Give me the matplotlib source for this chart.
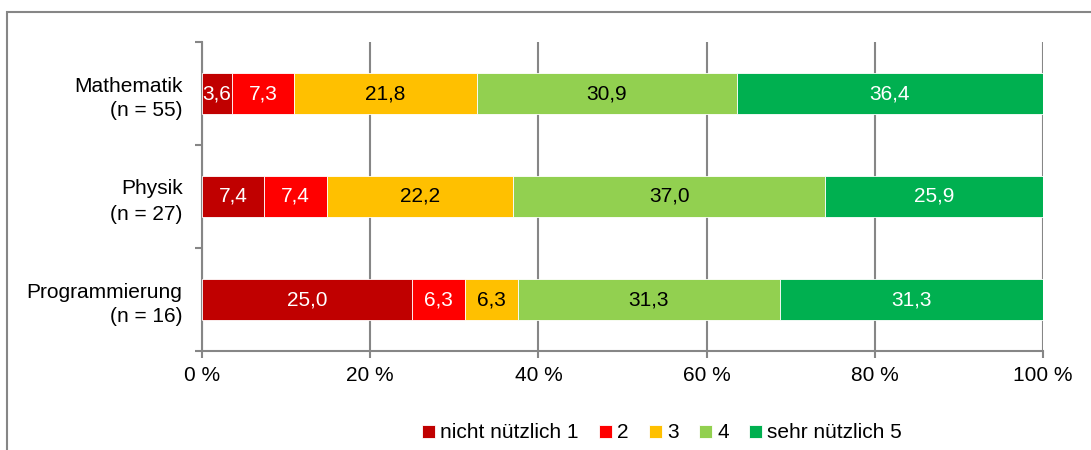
import matplotlib
matplotlib.use("Agg")
import matplotlib.pyplot as plt
import numpy as np
from matplotlib.patches import Rectangle

plt.rcParams['font.family'] = ['Liberation Sans', 'DejaVu Sans']

categories = ['Mathematik\n(n = 55)', 'Physik\n(n = 27)', 'Programmierung\n(n = 16)']
series = ['nicht nützlich 1', '2', '3', '4', 'sehr nützlich 5']
values = [
    [3.6, 7.3, 21.8, 30.9, 36.4],
    [7.4, 7.4, 22.2, 37.0, 25.9],
    [25.0, 6.3, 6.3, 31.3, 31.3],
]
colors = ['#C00000', '#FF0000', '#FFC000', '#92D050', '#00B050']
text_colors = ['white', 'white', 'black', 'black', 'white']
xticks = [0, 20, 40, 60, 80, 100]
xtick_labels = ['0 %', '20 %', '40 %', '60 %', '80 %', '100 %']

grey = '#868686'
fs = 15

fig = plt.figure(figsize=(10.91, 4.5), dpi=100)
ax = fig.add_axes([202/1091, 1-351/450, (1043-202)/1091, (351-42)/450])

vals = np.array(values)
# 100 % stacked: normalise each row like the spreadsheet does
widths = vals / vals.sum(axis=1, keepdims=True) * 100
y = np.arange(len(categories))
left = np.zeros(len(categories))
for j, name in enumerate(series):
    bars = ax.barh(y, widths[:, j], left=left, height=0.4, color=colors[j],
                   edgecolor='white', linewidth=0.6, label=name, zorder=3)
    for i, b in enumerate(bars):
        ax.text(left[i] + widths[i, j] / 2, y[i], f'{vals[i, j]:.1f}'.replace('.', ','),
                ha='center', va='center', color=text_colors[j], fontsize=fs, zorder=4)
    left += widths[:, j]

ax.set_xlim(0, 100)
ax.set_ylim(2.5, -0.5)
ax.set_xticks(xticks)
ax.set_xticklabels(xtick_labels, fontsize=fs)
ax.set_yticks(y)
ax.set_yticklabels(categories, fontsize=fs, linespacing=1.4)
ax.set_yticks([-0.5, 0.5, 1.5, 2.5], minor=True)
ax.tick_params(axis='y', which='major', length=0, pad=14)
ax.tick_params(axis='y', which='minor', length=5, width=1.5, color=grey)
ax.tick_params(axis='x', which='major', length=5, width=1.5, color=grey, pad=6)

ax.xaxis.grid(True, color=grey, linewidth=1.5, zorder=0)
ax.set_axisbelow(True)
for s in ['top', 'right']:
    ax.spines[s].set_visible(False)
for s in ['left', 'bottom']:
    ax.spines[s].set_color(grey)
    ax.spines[s].set_linewidth(1.5)

fig.legend(loc='center', bbox_to_anchor=(662/1091, 1-433/450), ncol=5, frameon=False,
           fontsize=fs, handlelength=0.6, handleheight=0.6, handletextpad=0.25,
           columnspacing=1.0)

fig.patches.append(Rectangle((7/1091, -0.1), 1.2, 1-12/450+0.1, transform=fig.transFigure,
                             fill=False, edgecolor=grey, linewidth=1.5))

fig.savefig('out.png', dpi=100)
